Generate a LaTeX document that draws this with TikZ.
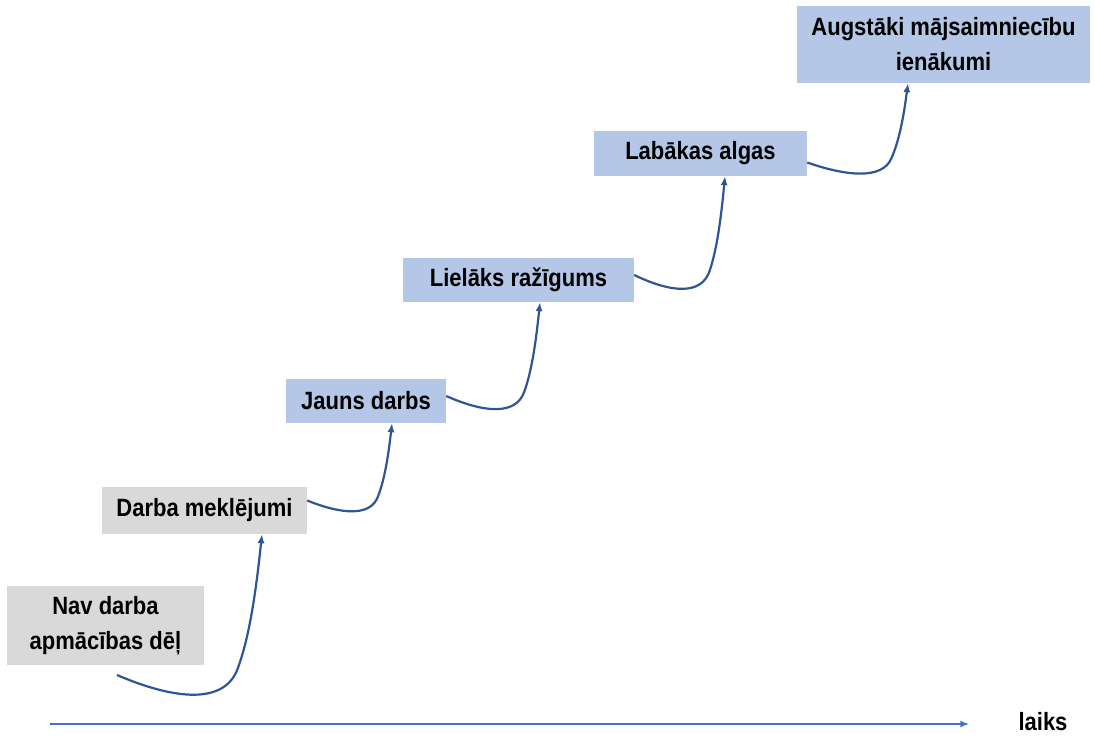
\documentclass[tikz,border=0pt]{standalone}
\usepackage{fontspec}
\setmainfont{Liberation Sans}[FakeStretch=0.88]
\usetikzlibrary{arrows.meta,calc}
\definecolor{boxgray}{HTML}{D9D9D9}
\definecolor{boxblue}{HTML}{B4C7E7}
\definecolor{connblue}{HTML}{2F5597}
\definecolor{axisblue}{HTML}{4472C4}
\tikzset{
  stepbox/.style={rectangle, inner sep=0pt, align=center, font=\fontsize{25}{35}\selectfont\bfseries, text=black},
  graybox/.style={stepbox, fill=boxgray},
  bluebox/.style={stepbox, fill=boxblue},
  conn/.style={draw=connblue, line width=2.2pt, -{Latex[length=9pt,width=7pt]}},
  axisline/.style={draw=axisblue, line width=1.8pt, -{Latex[length=9pt,width=7pt]}},
}
\newcommand\stepcurve[2]{%
  \draw[conn] let \p1=(#1), \p2=(#2), \n1={\x2-\x1}, \n2={\y2-\y1} in
    (\p1) .. controls (\x1+0.40*\n1, \y1-0.177*\n2) and (\x1+0.745*\n1, \y1-0.213*\n2) ..
    (\x1+0.834*\n1, \y1+0.05*\n2) .. controls (\x1+0.917*\n1, \y1+0.284*\n2) and (\x2-0.041*\n1, \y2-0.397*\n2) ..
    (\p2);}
\begin{document}
\begin{tikzpicture}[x=1pt,y=-1pt]
\useasboundingbox (0,0) rectangle (1095,745);
\node[graybox, minimum width=197pt, minimum height=79pt] (b1) at (105.5,625.5) {Nav darba\\apmācības dēļ};
\node[graybox, minimum width=205pt, minimum height=47pt] (b2) at (204.5,510.5) {Darba meklējumi};
\node[bluebox, minimum width=160pt, minimum height=44pt] (b3) at (366,401) {Jauns darbs};
\node[bluebox, minimum width=231pt, minimum height=44pt] (b4) at (518.5,280) {Lielāks ražīgums};
\node[bluebox, minimum width=213pt, minimum height=45pt] (b5) at (700.5,153.5) {Labākas algas};
\node[bluebox, minimum width=293pt, minimum height=77pt] (b6) at (943.5,44.5) {Augstāki mājsaimniecību\\ienākumi};
\coordinate (c0) at (117,675);
\stepcurve{c0}{[xshift=57.5pt]b2.south}
\stepcurve{[yshift=10pt]b2.east}{[xshift=26pt]b3.south}
\stepcurve{[yshift=5pt]b3.east}{[xshift=21.5pt]b4.south}
\stepcurve{[yshift=5pt]b4.east}{[xshift=24.5pt]b5.south}
\stepcurve{[yshift=-9pt]b5.east}{[xshift=-35.5pt]b6.south}
\coordinate (t0) at (50,724);
\node[stepbox] (laiks) at (1043,722) {laiks};
\draw[axisline] (t0) -- ([xshift=-49pt]laiks.west |- t0);
\end{tikzpicture}
\end{document}
